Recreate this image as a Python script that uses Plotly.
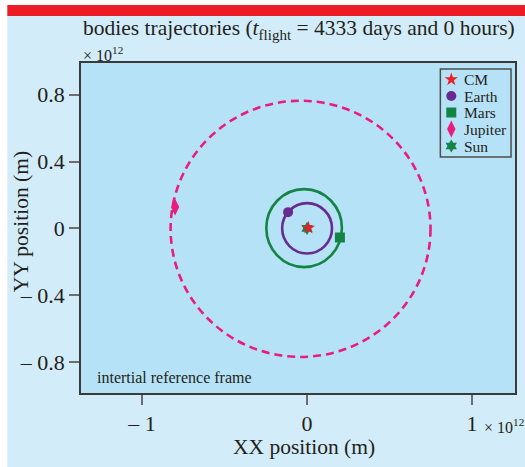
import plotly.graph_objects as go

# Bodies and their current positions (m)
bodies = ["CM", "Earth", "Mars", "Jupiter", "Sun"]
pos_x = [0.008e12, -0.115e12, 0.199e12, -0.800e12, 0.0]
pos_y = [0.003e12, 0.097e12, -0.055e12, 0.127e12, 0.0]

# Orbit extents (bounding boxes of the trajectories, m)
orbit_bodies = ["Earth", "Mars", "Jupiter"]
orbit_x_min = [-0.151e12, -0.247e12, -0.827e12]
orbit_x_max = [0.151e12, 0.211e12, 0.748e12]
orbit_y_min = [-0.151e12, -0.232e12, -0.770e12]
orbit_y_max = [0.151e12, 0.235e12, 0.764e12]

# Axis ticks
x_ticks = [-1e12, 0, 1e12]
x_tick_labels = ["\u2013 1", "0", "1"]
y_ticks = [-0.8e12, -0.4e12, 0, 0.4e12, 0.8e12]
y_tick_labels = ["\u2013 0.8", "\u2013 0.4", "0", "0.4", "0.8"]

colors = {"CM": "#e8202a", "Earth": "#682b8f", "Mars": "#148445",
          "Jupiter": "#ea1c7c", "Sun": "#148445"}
symbols = {"CM": "star", "Earth": "circle", "Mars": "square",
           "Jupiter": "diamond-tall", "Sun": "hexagram"}
sizes = {"CM": 10, "Earth": 10, "Mars": 10, "Jupiter": 12, "Sun": 10}

SERIF = "Liberation Serif"
INK = "#231f20"
FIG_BG = "#d3ecf9"
PLOT_BG = "#b6e2f7"

# Plot-area geometry in pixels (used for the overlay legend axis)
L, R, T, B = 81, 517, 63, 393
W, H = 525, 467

fig = go.Figure()

shapes = []
# Trajectories drawn as ellipses in data coordinates
for name, x0, x1, y0, y1 in zip(orbit_bodies, orbit_x_min, orbit_x_max,
                                 orbit_y_min, orbit_y_max):
    dash = "8px,5px" if name == "Jupiter" else "solid"
    shapes.append(dict(type="circle", xref="x", yref="y", x0=x0, x1=x1,
                       y0=y0, y1=y1, layer="below",
                       line=dict(color=colors[name], width=2.6, dash=dash)))

# Legend frame
shapes.append(dict(type="rect", xref="x2", yref="y2", x0=442, x1=513, y0=69, y1=157,
                   fillcolor=PLOT_BG, line=dict(color="#4d4d4d", width=1.5),
                   layer="below"))

# Page decoration: white edges and red header bar
px = lambda v: (v - L) / (R - L)
py = lambda v: (B - v) / (B - T)
shapes.append(dict(type="rect", xref="paper", yref="paper", x0=px(-20), x1=px(7),
                   y0=py(490), y1=py(-20), fillcolor="white", line_width=0, layer="above"))
shapes.append(dict(type="rect", xref="paper", yref="paper", x0=px(-20), x1=px(545),
                   y0=py(5), y1=py(-20), fillcolor="white", line_width=0, layer="above"))
shapes.append(dict(type="rect", xref="paper", yref="paper", x0=px(7), x1=px(545),
                   y0=py(16), y1=py(5), fillcolor="#ec1c24", line_width=0,
                   layer="above"))

# Current body positions (Sun first so the CM star sits on top)
for name in ["Sun", "CM", "Earth", "Mars", "Jupiter"]:
    i = bodies.index(name)
    fig.add_trace(go.Scatter(
        x=[pos_x[i]], y=[pos_y[i]], mode="markers", name=name, showlegend=False,
        marker=dict(symbol=symbols[name], color=colors[name], size=sizes[name],
                    line=dict(width=0)),
    ))

# Legend keys on a pixel-space overlay axis
legend_rows_y = [79.5, 96, 112.5, 129, 146]
key_x, text_x = 453, 464
annotations = []
for name, ry in zip(bodies, legend_rows_y):
    fig.add_trace(go.Scatter(
        x=[key_x], y=[ry], xaxis="x2", yaxis="y2", mode="markers", showlegend=False,
        hoverinfo="skip",
        marker=dict(symbol=symbols[name], color=colors[name], size=sizes[name],
                    line=dict(width=0)),
    ))
    annotations.append(dict(text=name, xref="x2", yref="y2", x=text_x, y=ry,
                            xanchor="left", yanchor="middle", showarrow=False,
                            font=dict(family=SERIF, size=15.5, color=INK)))

annotations += [
    dict(text="bodies trajectories (<i>t</i><sub>flight</sub> = 4333 days and 0 hours)",
         xref="paper", yref="paper", x=px(300), y=py(29), xanchor="center",
         yanchor="middle", showarrow=False,
         font=dict(family=SERIF, size=21.5, color=INK)),
    dict(text="\u00d7 10<sup>12</sup>", xref="paper", yref="paper",
         x=px(81), y=py(66), xanchor="left", yanchor="bottom", showarrow=False,
         font=dict(family=SERIF, size=16, color=INK)),
    dict(text="\u00d7 10<sup>12</sup>", xref="paper", yref="paper",
         x=px(484), y=py(414), xanchor="left", yanchor="top", showarrow=False,
         font=dict(family=SERIF, size=16, color=INK)),
    dict(text="intertial reference frame", xref="paper", yref="paper",
         x=px(95), y=py(377), xanchor="left", yanchor="middle", showarrow=False,
         font=dict(family=SERIF, size=16, color=INK)),
    dict(text="XX position (m)", xref="paper", yref="paper",
         x=px(305), y=py(447), xanchor="center", yanchor="middle", showarrow=False,
         font=dict(family=SERIF, size=21.5, color=INK)),
    dict(text="YY position (m)", xref="paper", yref="paper", textangle=-90,
         x=px(21), y=py(222), xanchor="center", yanchor="middle", showarrow=False,
         font=dict(family=SERIF, size=21.5, color=INK)),
]

axis_common = dict(showgrid=False, zeroline=False, showline=True, mirror=True,
                   linecolor="#3a3a3a", linewidth=1.5, ticks="outside", ticklen=10,
                   tickcolor="#6d6d6d", tickwidth=1.5,
                   tickfont=dict(family=SERIF, size=22, color=INK))

fig.update_layout(
    width=W, height=H,
    margin=dict(l=L, r=W - R, t=T, b=H - B),
    paper_bgcolor=FIG_BG, plot_bgcolor=PLOT_BG,
    shapes=shapes, annotations=annotations,
    font=dict(family=SERIF, color=INK),
    showlegend=False,
    xaxis=dict(range=[-1.37e12, 1.26e12], tickvals=x_ticks, ticktext=x_tick_labels,
               **axis_common),
    yaxis=dict(range=[-0.986e12, 0.99e12], tickvals=y_ticks, ticktext=y_tick_labels,
               **axis_common),
    xaxis2=dict(range=[L, R], overlaying="x", anchor="y2", visible=False,
                fixedrange=True),
    yaxis2=dict(range=[B, T], overlaying="y", anchor="x2", visible=False,
                fixedrange=True),
)

fig.write_html("out.html")
